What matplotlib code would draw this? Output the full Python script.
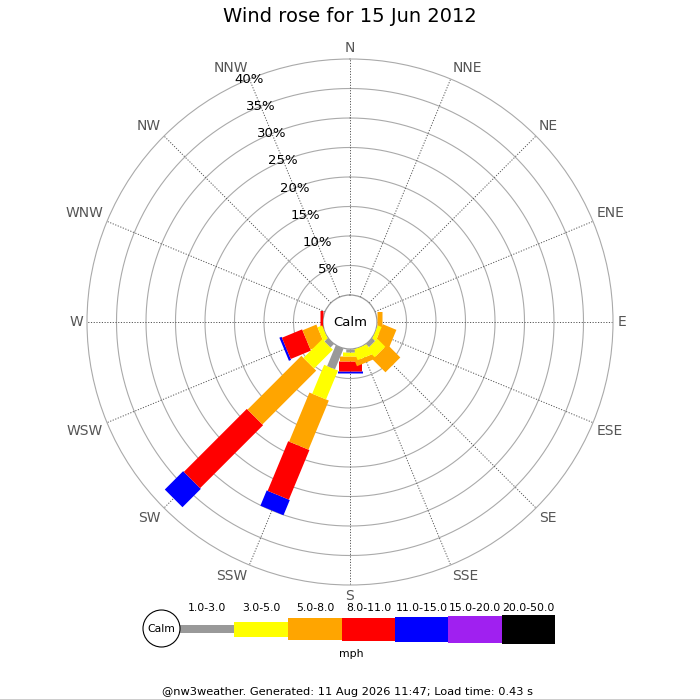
import numpy as np
import matplotlib.pyplot as plt

# wind direction sectors and speed bins (mph)
directions = ['N', 'NNE', 'NE', 'ENE', 'E', 'ESE', 'SE', 'SSE',
              'S', 'SSW', 'SW', 'WSW', 'W', 'WNW', 'NW', 'NNW']
speed_bins = ['1.0-3.0', '3.0-5.0', '5.0-8.0', '8.0-11.0',
              '11.0-15.0', '15.0-20.0', '20.0-50.0']
bin_colors = ['#999999', '#ffff00', '#ffa500', '#ff0000',
              '#0000ff', '#a020f0', '#000000']

# frequency (%) per direction for each speed bin
f_1_3 = [0, 0, 0, 0, 0, 0, 0.7, 0, 0.5, 3.8, 0.8, 0, 0, 0, 0, 0]
f_3_5 = [0, 0, 0, 0, 0, 0.7, 1.9, 1.9, 0.6, 5.3, 4.5, 0.85, 0, 0, 0, 0]
f_5_8 = [0, 0, 0, 0, 0.8, 2.5, 3.1, 0.9, 1.0, 9.0, 12.9, 2.55, 0, 0, 0, 0]
f_8_11 = [0, 0, 0, 0, 0, 0, 0, 0, 1.7, 9.1, 15.1, 3.7, 0.5, 0, 0, 0]
f_11_15 = [0, 0, 0, 0, 0, 0, 0, 0, 0.3, 2.8, 4.4, 0.4, 0, 0, 0, 0]
f_15_20 = [0] * 16
f_20_50 = [0] * 16

ring_pcts = [5, 10, 15, 20, 25, 30, 35, 40]

# bar thickness per speed bin (pixels)
bin_px = [8.5, 15, 21, 23, 25, 27, 29]

freqs = np.array([f_1_3, f_3_5, f_5_8, f_8_11, f_11_15, f_15_20, f_20_50])
cum = np.cumsum(freqs, axis=0)
start = cum - freqs

fig = plt.figure(figsize=(7, 7), dpi=100)
fig.patch.set_facecolor('white')

ax = fig.add_axes([87 / 700, 115 / 700, 526 / 700, 526 / 700], projection='polar')
ax.set_theta_zero_location('N')
ax.set_theta_direction(-1)
ax.set_ylim(0, 40)
ax.set_rorigin(-4.58)
ax.grid(False)
ax.set_xticks([])
ax.set_yticks([])
ax.spines['polar'].set_color('#aaaaaa')
ax.spines['polar'].set_linewidth(0.8)
ax.spines['inner'].set_color('#999999')
ax.spines['inner'].set_linewidth(0.9)

theta = np.deg2rad(np.arange(16) * 22.5)
circ = np.linspace(0, 2 * np.pi, 361)
for r in ring_pcts[:-1]:
    ax.plot(circ, np.full_like(circ, r), color='#aaaaaa', lw=0.8, zorder=1)
for t in theta:
    ax.plot([t, t], [0, 40], color='#555555', ls=(0, (1.2, 1.6)), lw=0.7, zorder=1)

# bar segments, fastest bin drawn first so slower bins sit on top
for k in range(len(speed_bins) - 1, -1, -1):
    lw = bin_px[k] * 72 / 100
    for i, t in enumerate(theta):
        if freqs[k, i] > 0:
            ax.plot([t, t], [start[k, i], cum[k, i]], color=bin_colors[k], lw=lw,
                    solid_capstyle='butt', zorder=3)

# percentage labels along NNW
for r in ring_pcts:
    ax.text(np.deg2rad(337.5), r, f'{r}%', ha='center', va='center',
            fontsize=9.5, color='black', zorder=6)

# compass labels
for name, t in zip(directions, theta):
    s, c = np.sin(t), np.cos(t)
    ha = 'left' if s > 0.1 else ('right' if s < -0.1 else 'center')
    va = 'bottom' if c > 0.1 else ('top' if c < -0.1 else 'center')
    ax.text(t, 40.7, name, ha=ha, va=va, fontsize=10, color='#555555',
            clip_on=False)

ax.text(0.5, 0.5, 'Calm', transform=ax.transAxes, ha='center', va='center',
        fontsize=9.5, zorder=7)

fig.text(0.5, 1 - 17 / 700, 'Wind rose for 15 Jun 2012', ha='center',
         va='center', fontsize=14)

# legend in pixel space
lg = fig.add_axes([0, 0, 1, 1])
lg.set_xlim(0, 700)
lg.set_ylim(700, 0)
lg.axis('off')
lg.set_aspect('equal')

seg_x = [180, 234, 288, 342, 395, 448, 502]
seg_w = [54, 54, 54, 53, 53, 54, 53]
leg_h = [7.7, 15, 22, 23, 25, 27, 29]
yc = 629
for x, w, h, col, lab in zip(seg_x, seg_w, leg_h, bin_colors, speed_bins):
    lg.bar(x, h, width=w, bottom=yc - h / 2, align='edge', color=col,
           linewidth=0)
    lg.text(x + w / 2, 608, lab, ha='center', va='center', fontsize=7.8)

lg.add_patch(plt.Circle((161.5, 628.5), 18.5, facecolor='white',
                        edgecolor='black', lw=0.8))
lg.text(161.5, 629, 'Calm', ha='center', va='center', fontsize=7.8)
lg.text(351, 654, 'mph', ha='center', va='center', fontsize=7.8)
lg.text(348, 692, '@nw3weather. Generated: 11 Aug 2026 11:47; Load time: 0.43 s',
        ha='center', va='center', fontsize=8.2)
lg.plot([0, 700], [699.5, 699.5], color='black', lw=1)

fig.savefig('out.png', dpi=100, facecolor='white')
